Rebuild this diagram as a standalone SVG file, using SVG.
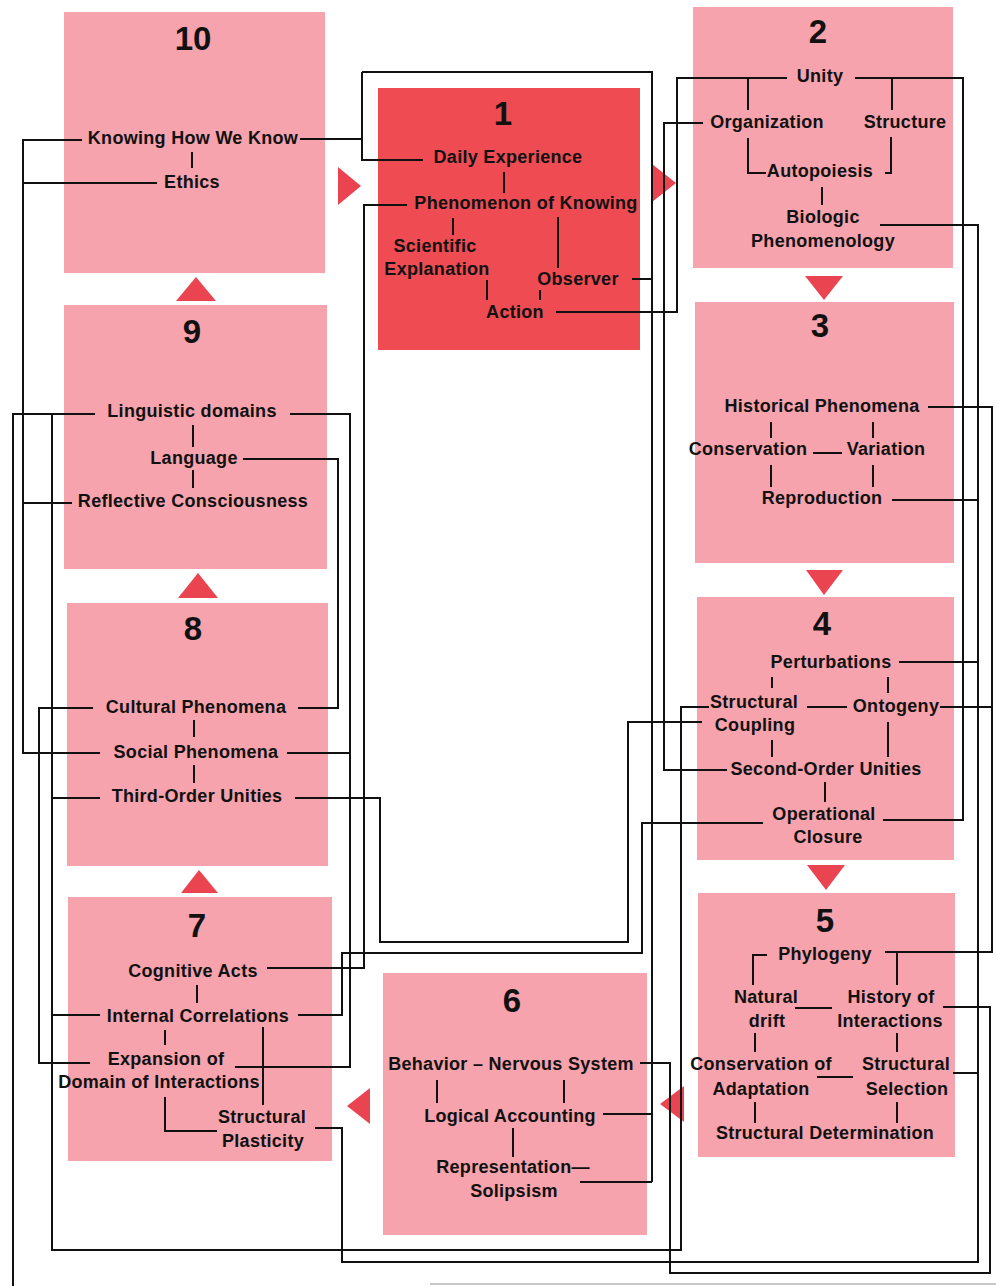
<svg xmlns="http://www.w3.org/2000/svg" width="996" height="1286" viewBox="0 0 996 1286">
<defs>
<style>
.bg{fill:#ffffff}
.box{fill:#f6a3ad}
.box1{fill:#ee4b53}
.arr{fill:#ea4450}
.t{font-family:"Liberation Sans",Arial,sans-serif;font-weight:bold;font-size:18px;letter-spacing:0.3px;fill:#111;text-anchor:middle}
.n{font-family:"Liberation Sans",Arial,sans-serif;font-weight:bold;font-size:33px;fill:#111;text-anchor:middle}
.c{fill:none;stroke:#111;stroke-width:2;stroke-linejoin:miter}
.edge{stroke:#c8c8c8;stroke-width:2}
</style>
</defs>
<rect class="bg" x="0" y="0" width="996" height="1286"/>
<line class="edge" x1="430" y1="1284" x2="996" y2="1284"/>

<g id="box10">
<rect class="box" x="64" y="12" width="261" height="261"/>
<text class="n" x="193" y="50">10</text>
<text class="t" x="193" y="144">Knowing How We Know</text>
<text class="t" x="192" y="188">Ethics</text>
</g>
<g id="box1">
<rect class="box1" x="378" y="88" width="262" height="262"/>
<text class="n" x="503" y="125">1</text>
<text class="t" x="508" y="163">Daily Experience</text>
<text class="t" x="526" y="209">Phenomenon of Knowing</text>
<text class="t" x="435" y="252">Scientific</text>
<text class="t" x="437" y="275">Explanation</text>
<text class="t" x="578" y="285">Observer</text>
<text class="t" x="515" y="318">Action</text>
</g>
<g id="box2">
<rect class="box" x="693" y="7" width="260" height="261"/>
<text class="n" x="818" y="43">2</text>
<text class="t" x="820" y="82">Unity</text>
<text class="t" x="767" y="128">Organization</text>
<text class="t" x="905" y="128">Structure</text>
<text class="t" x="820" y="177">Autopoiesis</text>
<text class="t" x="823" y="223">Biologic</text>
<text class="t" x="823" y="247">Phenomenology</text>
</g>
<g id="box3">
<rect class="box" x="695" y="302" width="259" height="261"/>
<text class="n" x="820" y="337">3</text>
<text class="t" x="822" y="412">Historical Phenomena</text>
<text class="t" x="748" y="455">Conservation</text>
<text class="t" x="886" y="455">Variation</text>
<text class="t" x="822" y="504">Reproduction</text>
</g>
<g id="box4">
<rect class="box" x="697" y="597" width="257" height="263"/>
<text class="n" x="822" y="635">4</text>
<text class="t" x="831" y="668">Perturbations</text>
<text class="t" x="754" y="708">Structural</text>
<text class="t" x="896" y="712">Ontogeny</text>
<text class="t" x="755" y="731">Coupling</text>
<text class="t" x="826" y="775">Second-Order Unities</text>
<text class="t" x="824" y="820">Operational</text>
<text class="t" x="828" y="843">Closure</text>
</g>
<g id="box5">
<rect class="box" x="698" y="893" width="257" height="264"/>
<text class="n" x="825" y="932">5</text>
<text class="t" x="825" y="960">Phylogeny</text>
<text class="t" x="766" y="1003">Natural</text>
<text class="t" x="767" y="1027">drift</text>
<text class="t" x="891" y="1003">History of</text>
<text class="t" x="890" y="1027">Interactions</text>
<text class="t" x="761" y="1070">Conservation of</text>
<text class="t" x="906" y="1070">Structural</text>
<text class="t" x="761" y="1095">Adaptation</text>
<text class="t" x="907" y="1095">Selection</text>
<text class="t" x="825" y="1139">Structural Determination</text>
</g>
<g id="box6">
<rect class="box" x="383" y="973" width="264" height="262"/>
<text class="n" x="512" y="1012">6</text>
<text class="t" x="511" y="1070">Behavior – Nervous System</text>
<text class="t" x="510" y="1122">Logical Accounting</text>
<text class="t" x="513" y="1173">Representation—</text>
<text class="t" x="514" y="1197">Solipsism</text>
</g>
<g id="box7">
<rect class="box" x="68" y="897" width="264" height="264"/>
<text class="n" x="197" y="937">7</text>
<text class="t" x="193" y="977">Cognitive Acts</text>
<text class="t" x="198" y="1022">Internal Correlations</text>
<text class="t" x="166" y="1065">Expansion of</text>
<text class="t" x="159" y="1088">Domain of Interactions</text>
<text class="t" x="262" y="1123">Structural</text>
<text class="t" x="263" y="1147">Plasticity</text>
</g>
<g id="box8">
<rect class="box" x="67" y="603" width="261" height="263"/>
<text class="n" x="193" y="640">8</text>
<text class="t" x="196" y="713">Cultural Phenomena</text>
<text class="t" x="196" y="758">Social Phenomena</text>
<text class="t" x="197" y="802">Third-Order Unities</text>
</g>
<g id="box9">
<rect class="box" x="64" y="305" width="263" height="264"/>
<text class="n" x="192" y="343">9</text>
<text class="t" x="192" y="417">Linguistic domains</text>
<text class="t" x="194" y="464">Language</text>
<text class="t" x="193" y="507">Reflective Consciousness</text>
</g>

<g id="flow-arrows">
<polygon class="arr" points="338,167 361,186 338,205"/>
<polygon class="arr" points="652,164 676,183 652,202"/>
<polygon class="arr" points="805,276 843,276 824,300"/>
<polygon class="arr" points="806,570 843,570 824,595"/>
<polygon class="arr" points="807,865 845,865 826,890"/>
<polygon class="arr" points="684,1086 660,1104 684,1122"/>
<polygon class="arr" points="370,1088 347,1106 370,1124"/>
<polygon class="arr" points="181,893 199,870 218,893"/>
<polygon class="arr" points="178,598 198,573 218,598"/>
<polygon class="arr" points="176,301 196,277 216,301"/>
</g>

<g id="connectors">
<!-- internal ticks -->
<path class="c" d="M192,152V168"/>
<path class="c" d="M504,172V193M453,218V235M558,217V268M487,280V300M540,290V300"/>
<path class="c" d="M748,78V110M892,78V110M748,138V173H766M891,137V173H885M822,187V205"/>
<path class="c" d="M771,422V438M873,422V438M813,453H842M771,465V487M873,465V487"/>
<path class="c" d="M772,677V688M888,677V693M807,707H847M772,740V757M888,722V757M825,782V802"/>
<path class="c" d="M767,955H753V985M897,953V985M795,1008H832M755,1033V1052M897,1033V1052M817,1077H853M755,1102V1123M897,1102V1123"/>
<path class="c" d="M437,1080V1103M564,1080V1103M513,1128V1157"/>
<path class="c" d="M197,985V1003M165,1030V1045M263,1027V1105M165,1097V1131H217"/>
<path class="c" d="M194,720V737M194,765V783"/>
<path class="c" d="M193,425V447M193,470V488"/>
<!-- long connectors -->
<path class="c" d="M300,139H362M362,72V160H423M362,72H652V1182M632,279H652M603,1114H652M580,1182H652"/>
<path class="c" d="M82,140H23V753H100M157,183H23M72,503H23"/>
<path class="c" d="M95,414H13V1286"/>
<path class="c" d="M52,414V1250H681V707H709M100,798H52M100,1015H52"/>
<path class="c" d="M290,414H350V1067H235M287,753H350"/>
<path class="c" d="M243,459H338V708H298"/>
<path class="c" d="M93,708H39V1063H90"/>
<path class="c" d="M295,798H380V942H628V722H702"/>
<path class="c" d="M407,205H364V968H267"/>
<path class="c" d="M298,1015H342V953H642V823H763"/>
<path class="c" d="M315,1128H342V1262H978V225H880M892,500H978M899,662H978M953,1073H978"/>
<path class="c" d="M855,78H963V820H883"/>
<path class="c" d="M928,407H992V952H885M940,707H992"/>
<path class="c" d="M943,1007H990V1273H670V1063H640"/>
<path class="c" d="M787,78H677V312H556"/>
<path class="c" d="M703,123H664V770H727"/>
</g>
</svg>
